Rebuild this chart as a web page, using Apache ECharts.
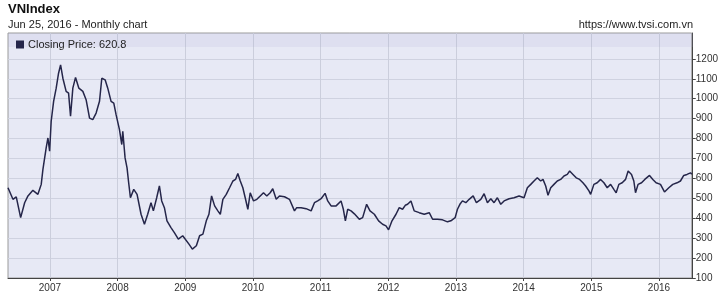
<!DOCTYPE html>
<html>
<head>
<meta charset="utf-8">
<script src="https://cdn.jsdelivr.net/npm/echarts@6/dist/echarts.min.js"></script>
<style>
html,body{margin:0;padding:0;background:#fff;}
#chart{width:721px;height:295px;}
</style>
</head>
<body>
<div id="chart"></div>
<script>
// Decimal-year dates and closing prices
const dates = [
2006.381,2006.454,2006.503,2006.568,2006.627,2006.676,2006.749,2006.823,2006.872,2006.897,
2006.945,2006.971,2006.996,2007.019,2007.055,2007.093,2007.128,2007.158,2007.192,2007.240,
2007.276,2007.305,2007.339,2007.379,2007.428,2007.487,2007.535,2007.586,2007.634,2007.683,
2007.733,2007.767,2007.816,2007.855,2007.904,2007.944,2007.978,2008.028,2008.062,2008.077,
2008.111,2008.140,2008.161,2008.190,2008.239,2008.288,2008.347,2008.397,2008.445,2008.494,
2008.529,2008.578,2008.618,2008.652,2008.692,2008.730,2008.789,2008.839,2008.898,2008.962,
2008.991,2009.055,2009.105,2009.164,2009.212,2009.261,2009.311,2009.350,2009.389,2009.434,
2009.482,2009.518,2009.556,2009.606,2009.655,2009.704,2009.743,2009.777,2009.813,2009.851,
2009.886,2009.925,2009.960,2010.009,2010.058,2010.108,2010.156,2010.205,2010.255,2010.293,
2010.344,2010.392,2010.466,2010.540,2010.614,2010.647,2010.712,2010.786,2010.860,2010.909,
2010.957,2011.007,2011.066,2011.105,2011.155,2011.229,2011.302,2011.336,2011.366,2011.400,
2011.450,2011.499,2011.572,2011.621,2011.680,2011.730,2011.794,2011.857,2011.916,2011.966,
2012.004,2012.055,2012.114,2012.162,2012.211,2012.251,2012.285,2012.335,2012.383,2012.457,
2012.531,2012.605,2012.630,2012.655,2012.727,2012.801,2012.875,2012.925,2012.988,2013.022,
2013.058,2013.096,2013.146,2013.195,2013.254,2013.302,2013.367,2013.416,2013.465,2013.515,
2013.563,2013.612,2013.662,2013.711,2013.785,2013.858,2013.932,2014.006,2014.055,2014.105,
2014.153,2014.202,2014.252,2014.286,2014.326,2014.360,2014.400,2014.448,2014.497,2014.547,
2014.596,2014.645,2014.680,2014.729,2014.777,2014.827,2014.876,2014.916,2014.965,2014.990,
2015.038,2015.087,2015.137,2015.186,2015.235,2015.285,2015.333,2015.367,2015.407,2015.456,
2015.506,2015.544,2015.594,2015.628,2015.653,2015.691,2015.742,2015.790,2015.860,2015.909,
2015.957,2016.022,2016.081,2016.145,2016.204,2016.267,2016.317,2016.366,2016.414,2016.465,
2016.484
];
const closes = [
553,495,507,403,478,512,540,520,570,645,
753,803,737,887,987,1053,1128,1170,1103,1037,
1028,912,1053,1107,1053,1037,995,903,895,928,
987,1103,1095,1053,987,978,920,845,770,837,
703,653,587,503,545,520,420,370,420,478,
437,503,562,487,453,387,353,328,295,312,
308,270,245,262,312,320,387,420,512,462,
437,420,495,520,553,587,595,625,587,553,
503,445,528,487,495,512,528,512,528,548,
495,512,508,495,437,453,453,448,437,478,
487,498,525,487,462,462,487,445,387,445,
437,422,395,403,470,437,420,387,370,362,
342,387,420,453,445,465,470,487,437,428,
420,428,437,395,395,392,382,387,403,445,
470,487,478,495,512,478,495,523,478,498,
478,503,470,487,498,503,512,503,553,570,
587,603,587,595,562,515,553,570,587,595,
612,620,637,620,603,595,578,562,537,520,
570,578,595,578,553,570,545,528,570,578,
595,637,620,587,528,570,578,595,615,595,
578,570,532,553,570,578,587,615,620,628,
620.8
];
const yearTicks = [2007,2008,2009,2010,2011,2012,2013,2014,2015,2016];
const priceTicks = [100,200,300,400,500,600,700,800,900,1000,1100,1200];
const seriesName = 'Closing Price';
const titleText = 'VNIndex';
const subtitleText = 'Jun 25, 2016 - Monthly chart';
const sourceText = 'https://www.tvsi.com.vn';

const FONT = '"Liberation Sans", Arial, sans-serif';
const chart = echarts.init(document.getElementById('chart'), null, {renderer: 'canvas'});
const lastVal = closes[closes.length - 1];

// horizontal grid colours: lines 100..1200 visible, 1300 and top edge hidden under the legend band
const hColors = [];
for (let i = 0; i < 12; i++) hColors.push('#cfd2e0');
hColors.push('rgba(0,0,0,0)', 'rgba(0,0,0,0)');

chart.setOption({
  animation: false,
  backgroundColor: '#ffffff',
  textStyle: {fontFamily: FONT},
  grid: {
    left: 8, right: 28, top: 33, bottom: 17,
    show: true, backgroundColor: '#e7e9f5', borderColor: '#9a9a9a', borderWidth: 1
  },
  graphic: [
    {type: 'rect', z: 1, silent: true,
     shape: {x: 8, y: 33, width: 685, height: 14},
     style: {fill: 'rgba(160,165,210,0.13)'}},
    {type: 'text', left: 8, top: 3, silent: true,
     style: {text: titleText, font: 'bold 13px ' + FONT, fill: '#111'}},
    {type: 'text', left: 8, top: 19, silent: true,
     style: {text: subtitleText, font: '11px ' + FONT, fill: '#222'}},
    {type: 'text', right: 28, top: 19, silent: true,
     style: {text: sourceText, font: '11px ' + FONT, fill: '#222'}}
  ],
  legend: {
    left: 11, top: 34, z: 5,
    itemWidth: 8, itemHeight: 8, itemGap: 4,
    icon: 'rect',
    textStyle: {fontSize: 11, color: '#222', fontFamily: FONT, padding: [0,0,0,-1]},
    formatter: function (name) { return name + ': ' + lastVal; },
    data: [seriesName]
  },
  xAxis: {
    type: 'value',
    min: dates[0], max: dates[dates.length - 1],
    splitNumber: 10,
    axisLine: {show: true, lineStyle: {color: '#444', width: 1}},
    axisTick: {show: true, length: 3, lineStyle: {color: '#444'}, customValues: yearTicks},
    axisLabel: {
      customValues: yearTicks,
      fontSize: 10, color: '#333', margin: 5, fontFamily: FONT,
      formatter: function (v) { return String(Math.round(v)); }
    },
    splitLine: {show: true, lineStyle: {color: '#cbcedc', width: 1}}
  },
  yAxis: {
    type: 'value', position: 'right',
    min: 100, max: 1330, interval: 100,
    axisLine: {show: true, lineStyle: {color: '#444', width: 1}},
    axisTick: {show: true, length: 4, inside: false, lineStyle: {color: '#444'}, customValues: priceTicks},
    axisLabel: {
      customValues: priceTicks,
      fontSize: 10, color: '#333', margin: 4, fontFamily: FONT,
      formatter: function (v) { return String(v); }
    },
    splitLine: {show: true, lineStyle: {color: hColors, width: 1}}
  },
  series: [{
    name: seriesName,
    type: 'line',
    data: dates.map(function (d, i) { return [d, closes[i]]; }),
    showSymbol: false,
    symbol: 'none',
    lineStyle: {color: '#25264a', width: 1.5},
    itemStyle: {color: '#25264a'},
    z: 3
  }]
});
</script>
</body>
</html>
